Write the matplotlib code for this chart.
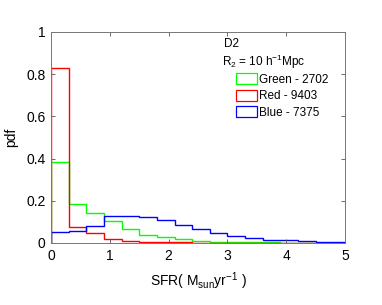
import numpy as np
import matplotlib
matplotlib.use('Agg')
import matplotlib.pyplot as plt
from matplotlib.patches import Patch

plt.rcParams['font.family'] = ['Liberation Sans', 'DejaVu Sans']
plt.rcParams['mathtext.fontset'] = 'custom'
plt.rcParams['mathtext.rm'] = 'Liberation Sans'
plt.rcParams['mathtext.it'] = 'Liberation Sans'

edges = np.round(np.arange(0, 5.11, 0.3), 2)
green = [0.382, 0.184, 0.141, 0.103, 0.068, 0.040, 0.030, 0.017, 0.011,
         0.007, 0.005, 0.004, 0.003, 0.002, 0.002, 0.001, 0.001]
red = [0.828, 0.075, 0.045, 0.017, 0.010, 0.006, 0.004, 0.003, 0.002,
       0.002, 0.001, 0.001, 0.001, 0.001, 0.001, 0.0, 0.0]
blue = [0.054, 0.057, 0.082, 0.130, 0.130, 0.121, 0.111, 0.086, 0.065,
        0.049, 0.035, 0.022, 0.014, 0.012, 0.010, 0.006, 0.006]
labels = ['Green - 2702', 'Red - 9403', 'Blue - 7375']
colors = ['#00ff00', '#ff0000', '#0000ff']

fig = plt.figure(figsize=(3.82, 3.05), dpi=100)
ax = fig.add_axes([0.1335, 0.2033, 0.770, 0.692])

for vals, c in zip([green, red, blue], colors):
    ax.stairs(vals, edges, color=c, lw=1.0, baseline=0)

ax.set_xlim(0, 5)
ax.set_ylim(0, 1)
ax.set_xticks(range(6))
ax.set_yticks([0, 0.2, 0.4, 0.6, 0.8, 1])
ax.set_yticklabels(['0', '0.2', '0.4', '0.6', '0.8', '1'])
ax.tick_params(direction='in', length=3, width=0.6, top=True, right=True,
               labelsize=10, color='#555555', pad=4)
for s in ax.spines.values():
    s.set_color('#777777')
    s.set_linewidth(0.7)

ax.set_xlabel(r'SFR( M$_{\mathrm{sun}}$yr$^{-1}$ )', fontsize=10, labelpad=6)
ax.set_ylabel('pdf', fontsize=10, labelpad=6)

ax.text(0.588, 0.943, 'D2', transform=ax.transAxes, fontsize=8.5, va='center')
ax.text(0.582, 0.858, r'R$_2$ = 10 h$^{-1}$Mpc', transform=ax.transAxes,
        fontsize=8.5, va='center')
handles = [Patch(facecolor='none', edgecolor=c, lw=0.9) for c in colors]
ax.legend(handles, labels, loc='upper left', bbox_to_anchor=(0.629, 0.805),
          frameon=False, fontsize=8.5, handlelength=1.8, handleheight=1.1,
          handletextpad=0.15, labelspacing=0.32, borderpad=0, borderaxespad=0)

fig.savefig('out.png', dpi=100)
